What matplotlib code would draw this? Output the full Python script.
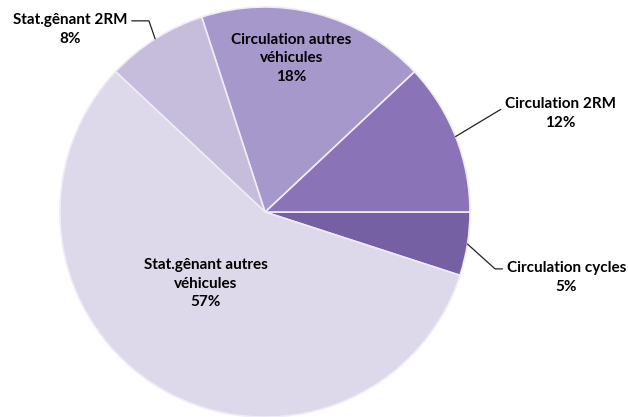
import matplotlib
matplotlib.use('Agg')
import matplotlib.pyplot as plt
import numpy as np

labels = ['Circulation cycles', 'Circulation 2RM', 'Circulation autres\nvéhicules',
          'Stat.gênant 2RM', 'Stat.gênant autres\nvéhicules']
values = [5, 12, 18, 8, 57]
colors = ['#7560a3', '#8a73b6', '#a698ca', '#c6bddc', '#ddd8ea']

plt.rcParams['font.family'] = ['Lato', 'DejaVu Sans']

W, H = 628, 417
fig = plt.figure(figsize=(W / 100, H / 100), dpi=100)
# pie centre ~(265, 212) px, radius ~205 px
cx, cy, r = 265, 212, 205
ax = fig.add_axes([(cx - r) / W, (H - cy - r) / H, 2 * r / W, 2 * r / H])

wedges, _ = ax.pie(values, colors=colors, startangle=-18, counterclock=True,
                   radius=1, wedgeprops=dict(edgecolor='#efecf5', linewidth=1.2))
ax.set_xlim(-1, 1)
ax.set_ylim(-1, 1)
ax.set_aspect('equal')
ax.axis('off')

fs = 11
ls = 1.5

# inside labels (x, y) in pie units
inside = {2: (0.13, 0.75), 4: (-0.29, -0.35)}
for i, (x, y) in inside.items():
    ax.text(x, y, f'{labels[i]}\n{values[i]}%', ha='center', va='center',
            fontsize=fs, fontweight='bold', linespacing=1.4)

# outside labels with leader lines: text pos, attach point, angle of diagonal
outside = {3: ((-0.95, 0.89), (1, 0.76), 109),
           1: ((1.44, 0.48), (0, 0.76), 31),
           0: ((1.47, -0.32), (0, 0.76), 138)}
for i, (xytext, rp, angb) in outside.items():
    w = wedges[i]
    ang = np.deg2rad((w.theta1 + w.theta2) / 2)
    ax.annotate(f'{labels[i]}\n{values[i]}%', xy=(np.cos(ang), np.sin(ang)),
                xytext=xytext, ha='center', va='center', fontsize=fs,
                fontweight='bold', linespacing=ls, annotation_clip=False,
                arrowprops=dict(arrowstyle='-', color='#222222', lw=0.9,
                                relpos=rp, shrinkA=1, shrinkB=0,
                                connectionstyle=f'angle,angleA=0,angleB={angb},rad=0'))

fig.savefig('out.png', dpi=100)
